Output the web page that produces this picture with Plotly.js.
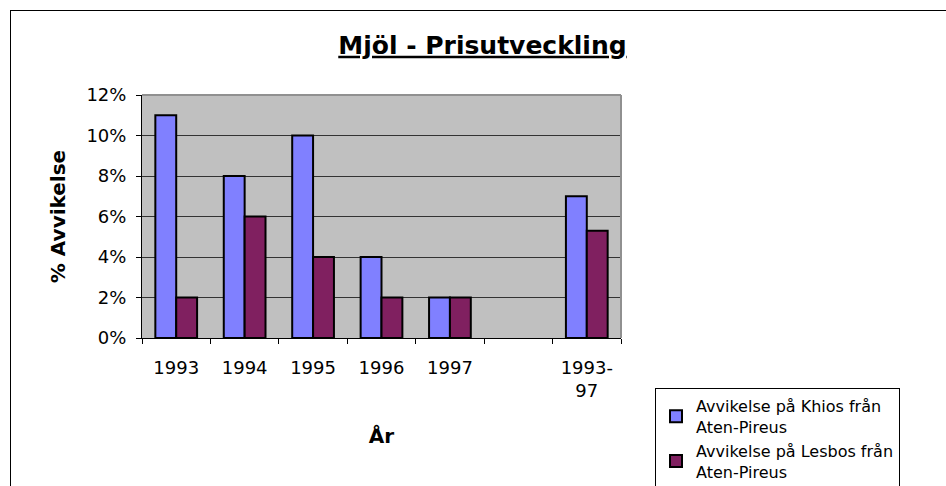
<!DOCTYPE html>
<html>
<head>
<meta charset="utf-8">
<script src="https://cdn.plot.ly/plotly-3.0.1.min.js"></script>
<style>
html,body{margin:0;padding:0;background:#fff;}
#frame{position:absolute;left:10px;top:10px;width:940px;height:480px;border-left:1px solid #000;border-top:1px solid #000;}
#chart{position:absolute;left:0;top:0;width:946px;height:486px;}
</style>
</head>
<body>
<div id="frame"></div>
<div id="chart"></div>
<script>
const categories = ['1993', '1994', '1995', '1996', '1997', ' ', '1993-<br>97'];
const khios = [0.11, 0.08, 0.10, 0.04, 0.02, null, 0.07];
const lesbos = [0.02, 0.06, 0.04, 0.02, 0.02, null, 0.053];
const seriesNames = ['Avvikelse på Khios från<br>Aten-Pireus', 'Avvikelse på Lesbos från<br>Aten-Pireus'];
const colors = ['#8080ff', '#802060'];
const font = 'DejaVu Sans, Arial, sans-serif';

const traces = [khios, lesbos].map((vals, i) => ({
  type: 'bar',
  x: categories,
  y: vals,
  name: seriesNames[i],
  marker: {color: colors[i], line: {color: '#000', width: 2}},
  hoverinfo: 'skip'
}));

const layout = {
  width: 946, height: 486,
  paper_bgcolor: 'rgba(0,0,0,0)',
  plot_bgcolor: '#c0c0c0',
  margin: {l: 142, r: 325, t: 95, b: 148},
  font: {family: font, size: 18, color: '#000'},
  barmode: 'group',
  bargap: 0.39,
  bargroupgap: 0,
  title: {
    text: '<b><u>Mjöl - Prisutveckling</u></b>',
    font: {family: font, size: 25, color: '#000'},
    xref: 'container', x: 0.51, xanchor: 'center',
    yref: 'container', y: 1 - 45/486, yanchor: 'middle'
  },
  xaxis: {
    type: 'category',
    showline: true, linecolor: '#000', linewidth: 1,
    ticks: 'outside', tickson: 'boundaries', ticklen: 5, tickcolor: '#000',
    ticklabelstandoff: 13,
    showgrid: false,
    tickfont: {family: font, size: 18},
    title: {text: '<b>År</b>', font: {family: font, size: 20}, standoff: 28}
  },
  yaxis: {
    range: [0, 0.12], dtick: 0.02, tickformat: '.0%',
    showline: true, linecolor: '#000', linewidth: 1,
    ticks: 'outside', ticklen: 5, tickcolor: '#000',
    ticklabelstandoff: 6,
    showgrid: true, gridcolor: '#333', gridwidth: 1,
    zeroline: false,
    tickfont: {family: font, size: 18},
    title: {text: '<b>% Avvikelse</b>', font: {family: font, size: 20}, standoff: 15}
  },
  shapes: [
    {type: 'line', xref: 'paper', yref: 'paper', x0: 0, x1: 1, y0: 1, y1: 1, line: {color: '#909090', width: 2}},
    {type: 'line', xref: 'paper', yref: 'paper', x0: 1, x1: 1, y0: 0, y1: 1, line: {color: '#909090', width: 2}}
  ],
  showlegend: true,
  legend: {
    xref: 'container', yref: 'container',
    x: 655/946, y: 1 - 388/486, xanchor: 'left', yanchor: 'top',
    bordercolor: '#000', borderwidth: 1, bgcolor: '#fff',
    font: {family: font, size: 16},
    tracegroupgap: 0
  }
};

Plotly.newPlot('chart', traces, layout, {displayModeBar: false, staticPlot: true});
</script>
</body>
</html>
